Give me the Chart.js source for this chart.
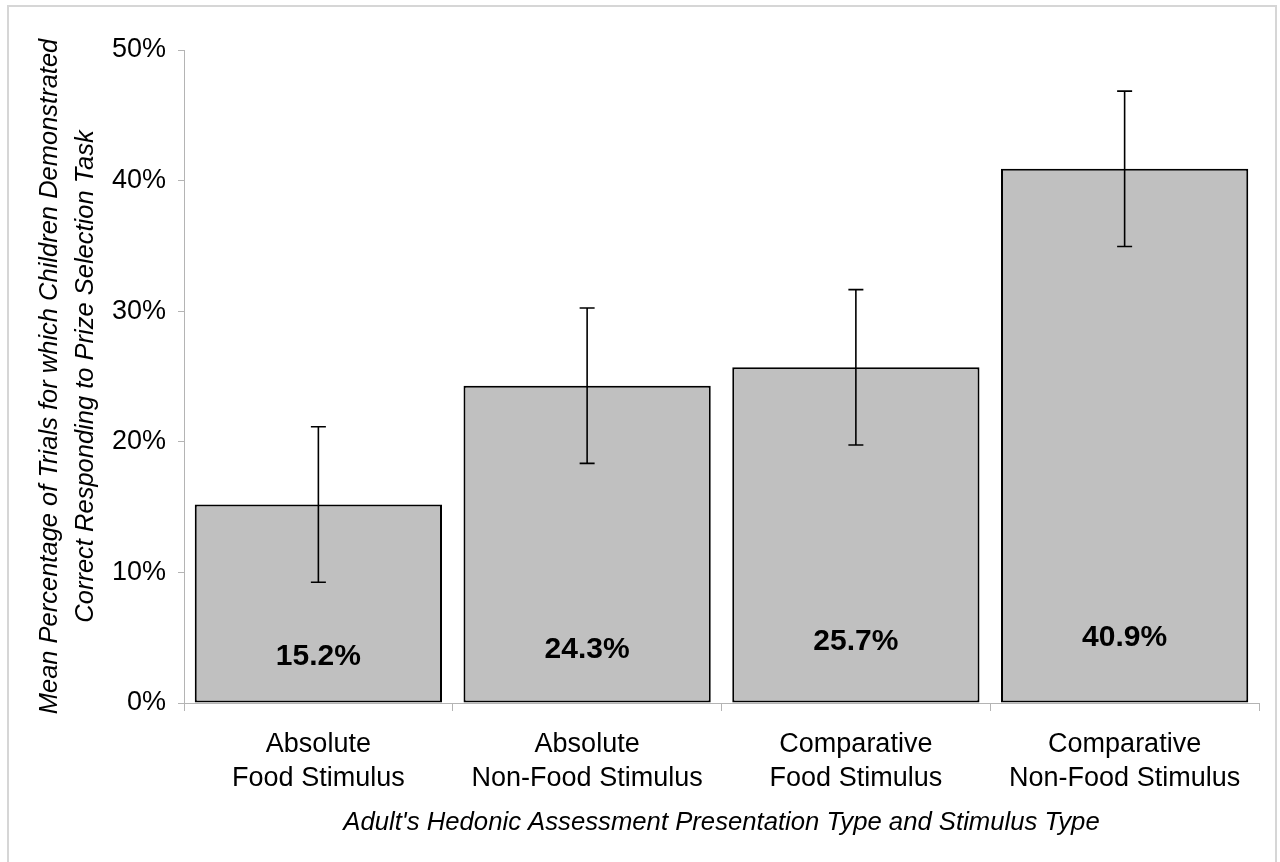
<!DOCTYPE html>
<html>
<head>
<meta charset="utf-8">
<script src="https://cdn.jsdelivr.net/npm/chart.js@4"></script>
<style>
  html, body { margin: 0; padding: 0; background: #ffffff; }
  #wrap { position: relative; width: 1280px; height: 862px; overflow: hidden; }
  #frame { position: absolute; left: 7px; top: 5px; width: 1270px; height: 880px;
           border: 2px solid #d6d6d6; box-sizing: border-box; pointer-events: none; }
  canvas { position: absolute; left: 0; top: 0; }
</style>
</head>
<body>
<div id="wrap">
  <canvas id="chart" width="1280" height="862"></canvas>
  <div id="frame"></div>
</div>
<script>
// Presentation type / stimulus type groups
const categories = [
  ["Absolute", "Food Stimulus"],
  ["Absolute", "Non-Food Stimulus"],
  ["Comparative", "Food Stimulus"],
  ["Comparative", "Non-Food Stimulus"]
];
// Mean percentage of trials with correct responding
const meanPercent = [15.2, 24.3, 25.7, 40.9];
// Error bar half-lengths (percentage points)
const errorPercent = [5.95, 5.95, 5.95, 5.95];
// Vertical level (in % units) at which each value label is centred
const labelLevels = [3.52, 4.06, 4.67, 5.02];
// Y axis range and step
const yMin = 0, yMax = 50, yStep = 10;

const FONT = "'Liberation Sans', Arial, Helvetica, sans-serif";
Chart.defaults.font.family = FONT;
Chart.defaults.color = '#000000';

const AXIS_GRAY = '#b4b4b4';

// Draws the error bars and the bold value labels inside the bars
const errorBarsAndLabels = {
  id: 'errorBarsAndLabels',
  afterDatasetsDraw(chart) {
    const ctx = chart.ctx;
    const yScale = chart.scales.y;
    const meta = chart.getDatasetMeta(0);
    ctx.save();
    meta.data.forEach((bar, i) => {
      const x = bar.x;
      const yTop = yScale.getPixelForValue(meanPercent[i] + errorPercent[i]);
      const yBot = yScale.getPixelForValue(meanPercent[i] - errorPercent[i]);
      ctx.strokeStyle = '#000000';
      ctx.lineWidth = 1.6;
      ctx.beginPath();
      ctx.moveTo(x, yTop); ctx.lineTo(x, yBot);
      ctx.moveTo(x - 7.5, yTop); ctx.lineTo(x + 7.5, yTop);
      ctx.moveTo(x - 7.5, yBot); ctx.lineTo(x + 7.5, yBot);
      ctx.stroke();

      ctx.fillStyle = '#000000';
      ctx.font = 'bold 30px ' + FONT;
      ctx.textAlign = 'center';
      ctx.textBaseline = 'middle';
      ctx.fillText(meanPercent[i].toFixed(1) + '%', x, yScale.getPixelForValue(labelLevels[i]));
    });
    ctx.restore();
  }
};

new Chart(document.getElementById('chart'), {
  type: 'bar',
  data: {
    labels: categories,
    datasets: [{
      data: meanPercent,
      backgroundColor: '#c0c0c0',
      borderColor: '#000000',
      borderWidth: 2,
      borderSkipped: false,
      barPercentage: 0.92,
      categoryPercentage: 1.0
    }]
  },
  options: {
    responsive: false,
    animation: false,
    events: [],
    layout: { padding: { top: 50, right: 21, bottom: 0, left: 0 } },
    plugins: {
      legend: { display: false },
      tooltip: { enabled: false }
    },
    scales: {
      x: {
        offset: true,
        grid: { offset: true, drawOnChartArea: false, tickLength: 8, tickColor: AXIS_GRAY, tickWidth: 1 },
        border: { color: AXIS_GRAY, width: 1 },
        ticks: { font: { size: 27, lineHeight: 1.26 }, color: '#000000', padding: 17, maxRotation: 0, autoSkip: false },
        title: {
          display: true,
          text: "Adult's Hedonic Assessment Presentation Type and Stimulus Type",
          font: { size: 25.7, style: 'italic', lineHeight: 1.2 },
          color: '#000000',
          padding: { top: 0, bottom: 24 }
        },
        afterFit(scale) { scale.height = 862 - 703; }
      },
      y: {
        min: yMin,
        max: yMax,
        grid: { drawOnChartArea: false, tickLength: 6, tickColor: AXIS_GRAY, tickWidth: 1 },
        border: { color: AXIS_GRAY, width: 1 },
        ticks: {
          stepSize: yStep,
          font: { size: 27 },
          color: '#000000',
          padding: 12,
          callback: (v) => v + '%'
        },
        title: {
          display: true,
          text: [
            'Mean Percentage of Trials for which Children Demonstrated',
            'Correct Responding to Prize Selection Task'
          ],
          font: { size: 25.5, style: 'italic', lineHeight: 1.4 },
          color: '#000000',
          padding: { top: 32, bottom: 0 }
        },
        afterFit(scale) { scale.width = 184; }
      }
    }
  },
  plugins: [errorBarsAndLabels]
});
</script>
</body>
</html>
